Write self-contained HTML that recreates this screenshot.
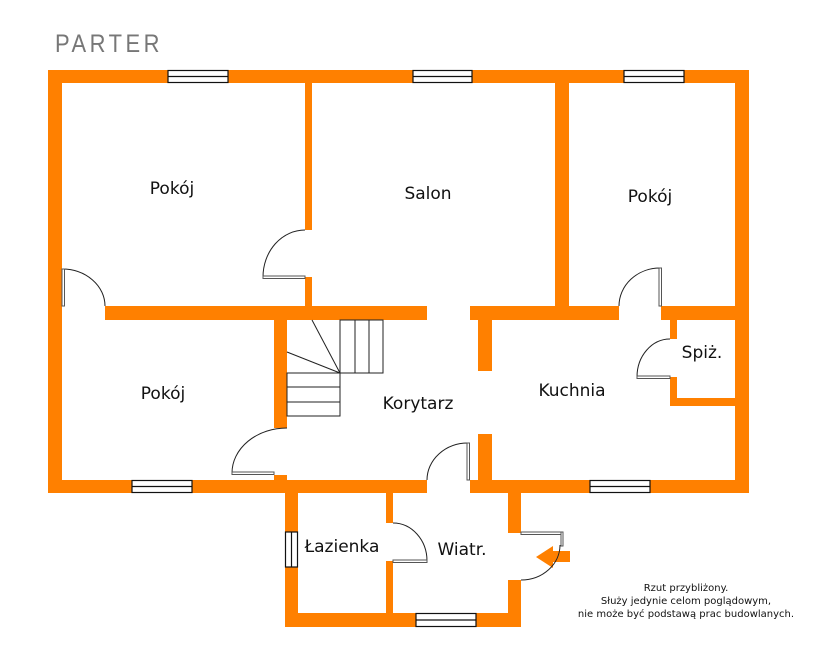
<!DOCTYPE html>
<html><head><meta charset="utf-8"><style>
html,body{margin:0;padding:0;background:#fff;}
svg{display:block;}
text{font-family:"DejaVu Sans","Liberation Sans",sans-serif;fill:#111;}
</style></head><body>
<svg width="838" height="668" viewBox="0 0 838 668" xmlns="http://www.w3.org/2000/svg">
<text x="55" y="52" style="font-family:'Liberation Sans',sans-serif;font-size:25px;fill:#777;letter-spacing:4px" textLength="108" lengthAdjust="spacingAndGlyphs">PARTER</text>
<g fill="#FF8000">
<rect x="48" y="70" width="701" height="13"/>
<rect x="48" y="70" width="14" height="423"/>
<rect x="735" y="70" width="14" height="423"/>
<rect x="48" y="480" width="379" height="13"/>
<rect x="470" y="480" width="279" height="13"/>
<rect x="305" y="83" width="7" height="147"/>
<rect x="305" y="277" width="7" height="30"/>
<rect x="105" y="306" width="322" height="14"/>
<rect x="470" y="306" width="149" height="14"/>
<rect x="661" y="306" width="88" height="14"/>
<rect x="555" y="83" width="14" height="224"/>
<rect x="274" y="320" width="13" height="108"/>
<rect x="274" y="475" width="13" height="6"/>
<rect x="478" y="320" width="14" height="51"/>
<rect x="478" y="434" width="14" height="47"/>
<rect x="670" y="320" width="7" height="19"/>
<rect x="670" y="377" width="7" height="29"/>
<rect x="670" y="398" width="65" height="8"/>
<rect x="285" y="493" width="13" height="134"/>
<rect x="285" y="613" width="236" height="14"/>
<rect x="508" y="493" width="13" height="40"/>
<rect x="508" y="580" width="13" height="47"/>
<rect x="386" y="493" width="7" height="30"/>
<rect x="386" y="561" width="7" height="52"/>
<polygon points="536,557 553,546 553,551 570,551 570,562 553,562 553,568"/>
</g>
<g fill="#fff" stroke="#111" stroke-width="1.2">
<rect x="168" y="70.5" width="60" height="12"/><line x1="168" y1="76.5" x2="228" y2="76.5"/>
<rect x="413" y="70.5" width="59" height="12"/><line x1="413" y1="76.5" x2="472" y2="76.5"/>
<rect x="624" y="70.5" width="60" height="12"/><line x1="624" y1="76.5" x2="684" y2="76.5"/>
<rect x="132" y="480.5" width="60" height="12"/><line x1="132" y1="486.5" x2="192" y2="486.5"/>
<rect x="590" y="480.5" width="60" height="12"/><line x1="590" y1="486.5" x2="650" y2="486.5"/>
<rect x="416" y="613.5" width="60" height="13"/><line x1="416" y1="620" x2="476" y2="620"/>
<rect x="285.5" y="532" width="12" height="35"/><line x1="291.5" y1="532" x2="291.5" y2="567"/>
</g>
<g fill="none" stroke="#222" stroke-width="1">
<rect x="340" y="320" width="43" height="53"/>
<line x1="355" y1="320" x2="355" y2="373"/><line x1="369" y1="320" x2="369" y2="373"/>
<rect x="287" y="373" width="53" height="43"/>
<line x1="287" y1="387" x2="340" y2="387"/><line x1="287" y1="402" x2="340" y2="402"/>
<line x1="340" y1="373" x2="312" y2="320"/><line x1="340" y1="373" x2="287" y2="352"/>
<path d="M263 277 A42 47 0 0 1 305 230"/>
<path d="M62 269 A43 37 0 0 1 105 306"/>
<path d="M619 306 A41 38 0 0 1 660 268"/>
<path d="M232 473 A55 45 0 0 1 287 428"/>
<path d="M427 480 A41 37 0 0 1 468 443"/>
<path d="M637 377 A33 38 0 0 1 670 339"/>
<path d="M393 523 A34 38 0 0 1 427 561"/>
<path d="M560 545 A39 35 0 0 1 521 580"/>
</g>
<g fill="#fff" stroke="#555" stroke-width="1">
<rect x="263" y="276" width="42" height="2.5"/>
<rect x="62" y="269" width="2.5" height="37"/>
<rect x="659" y="268" width="2.5" height="38"/>
<rect x="232" y="472" width="42" height="2.5"/>
<rect x="467" y="443" width="2.5" height="37"/>
<rect x="637" y="376" width="33" height="2.5"/>
<rect x="393" y="560" width="34" height="2.5"/>
<rect x="521" y="532" width="41" height="2.5"/>
<rect x="561" y="532" width="2" height="14"/>
</g>
<g font-size="17" text-anchor="middle">
<text x="172" y="194">Pokój</text>
<text x="428" y="199">Salon</text>
<text x="650" y="202">Pokój</text>
<text x="163" y="399">Pokój</text>
<text x="418" y="409">Korytarz</text>
<text x="572" y="396">Kuchnia</text>
<text x="702" y="358">Spiż.</text>
<text x="342" y="552">Łazienka</text>
<text x="462" y="555">Wiatr.</text>
</g>
<g font-size="10" text-anchor="middle" style="font-family:'DejaVu Sans',sans-serif">
<text x="686" y="591">Rzut przybliżony.</text>
<text x="686" y="604">Służy jedynie celom poglądowym,</text>
<text x="686" y="617">nie może być podstawą prac budowlanych.</text>
</g>
</svg>
</body></html>
